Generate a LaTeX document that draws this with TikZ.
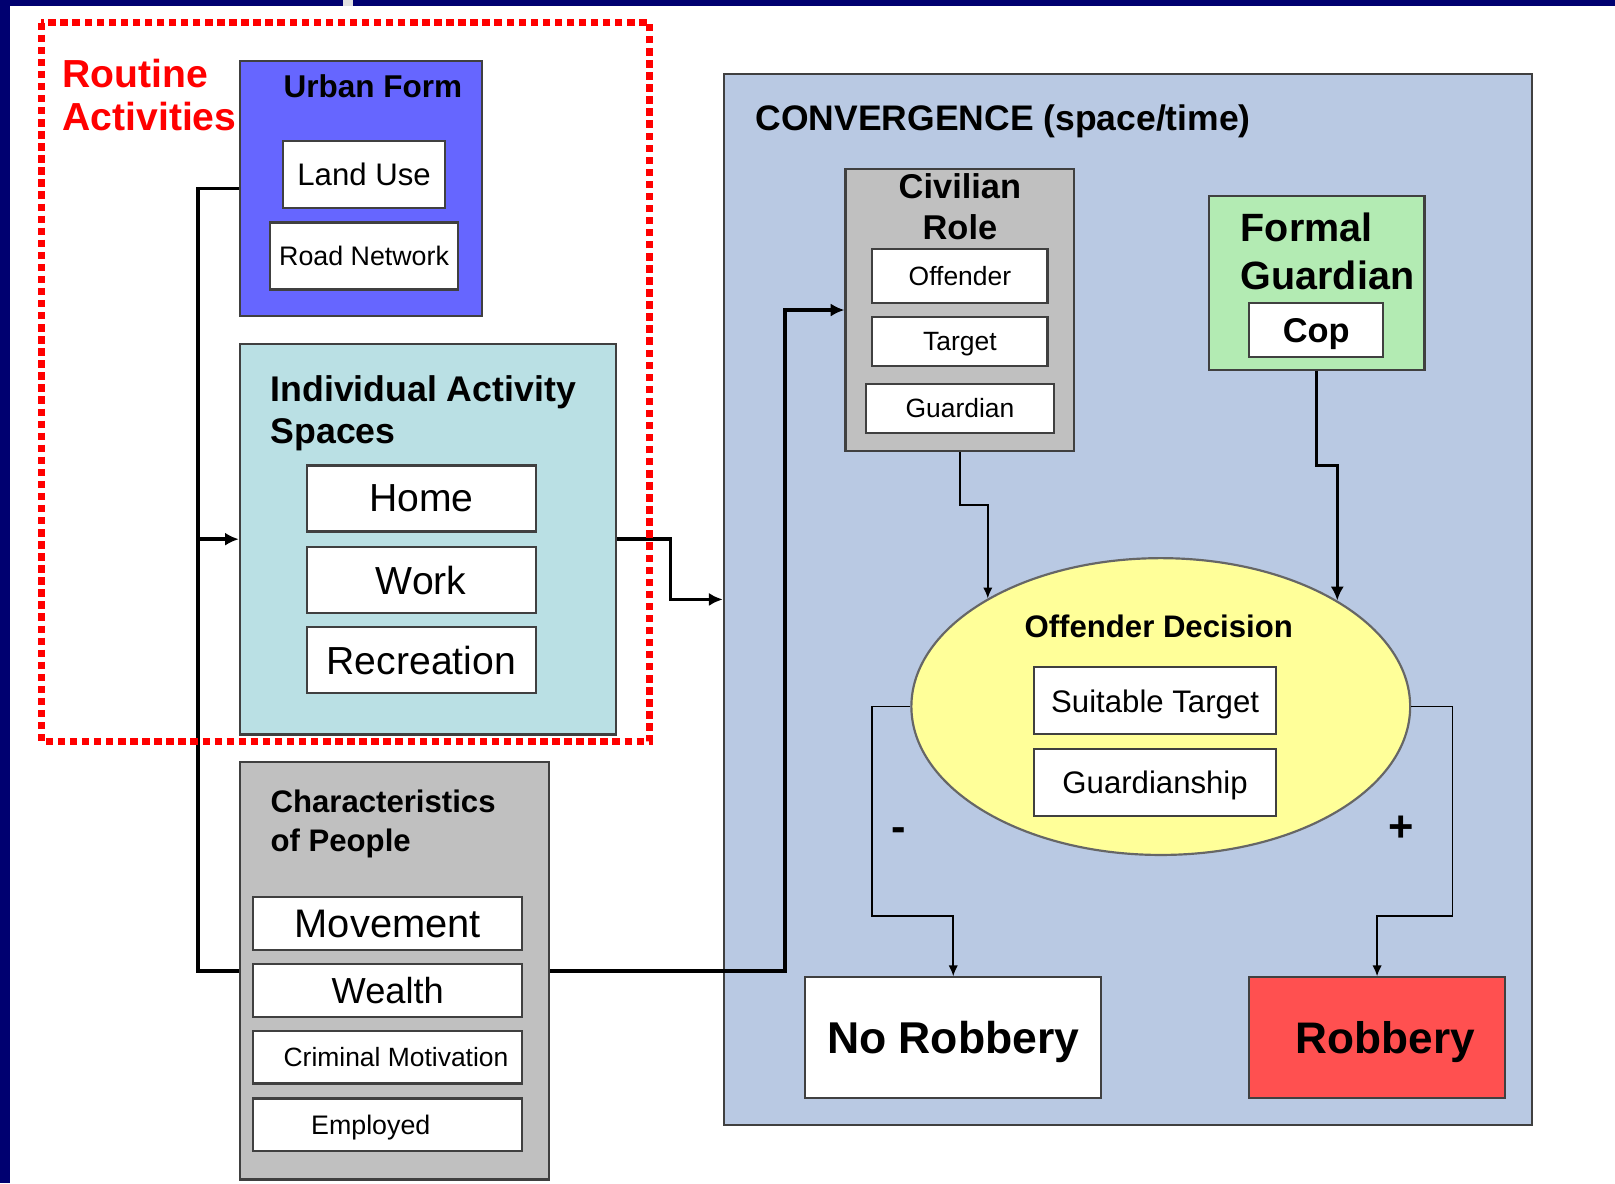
\documentclass[tikz,border=0pt]{standalone}
\usepackage{fontspec}
\setmainfont{Liberation Sans}
\usepackage{xcolor}
\usepackage{tikz}
\usetikzlibrary{calc}
\usetikzlibrary{shapes.geometric, arrows.meta}
\tikzstyle{arrow} = [->,>={Latex[length=3.8pt, width=3.6pt]}]
\definecolor{navy}{RGB}{0,0,112}
\definecolor{urbanblue}{RGB}{102,102,255}
\definecolor{iascyan}{RGB}{186,224,228}
\definecolor{chargray}{RGB}{192,192,192}
\definecolor{convblue}{RGB}{185,201,227}
\definecolor{guardgreen}{RGB}{179,235,179}
\definecolor{decyellow}{RGB}{255,255,153}
\definecolor{robred}{RGB}{255,80,80}
\definecolor{routinered}{RGB}{255,0,0}
\newcommand{\fsz}[2]{\fontsize{#1}{#2}\selectfont}

\begin{document}
\begin{tikzpicture}[
				x=0.01cm, y=-0.01cm,
				panel/.style= {draw=black!75, line width=0.6pt, inner sep=0pt, text depth=0pt},
				item/.style= {panel, fill=white},
				head/.style= {inner sep=0pt},
				link/.style= {line width=1pt},
				feed/.style= {line width=0.5pt, >={Latex[length=3pt, width=2.6pt]}},
				routine/.style= {draw=routinered, line width=0.068cm, dash pattern=on 0.072cm off 0.045cm}
			]
			\useasboundingbox (0,0) rectangle (1568,1149);
			\fill [navy] (0,0) rectangle (1568,6);
			\fill [navy] (0,0) rectangle (10,1149);
			\fill [black!12] (333,0) rectangle (343,6);
			
			\node (conv) [panel, fill=convblue, minimum width=7.84cm, minimum height=10.2cm] at (1095,582) {};
			\node (convtitle) [head, anchor=north west, font={\fsz{9.8}{12}\bfseries}] at (733,101) {CONVERGENCE (space/time)};
			
			\node (urban) [panel, fill=urbanblue, minimum width=2.35cm, minimum height=2.48cm] at (350.5,183) {};
			\node (urbantitle) [head, font={\fsz{8.7}{10}\bfseries}] at (362,84) {Urban Form};
			\node (landuse) [item, minimum width=1.57cm, minimum height=0.65cm, font={\fsz{8.6}{10}}] at (353.5,169.5) {Land Use};
			\node (road) [item, minimum width=1.83cm, minimum height=0.65cm, font={\fsz{7.4}{9}}] at (353.5,248.5) {Road Network};
			
			\node (ias) [panel, fill=iascyan, minimum width=3.65cm, minimum height=3.79cm] at (415.5,523.5) {};
			\node (iastitle) [head, anchor=north west, align=left, font={\fsz{9.85}{11.6}\bfseries}] at (262,364) {Individual Activity\\Spaces};
			\node (home) [item, minimum width=2.22cm, minimum height=0.64cm, font={\fsz{10.8}{12}}] at (409,484) {Home};
			\node (work) [item, minimum width=2.22cm, minimum height=0.64cm, font={\fsz{10.8}{12}}] at (409,563) {Work};
			\node (recreation) [item, minimum width=2.22cm, minimum height=0.64cm, font={\fsz{10.8}{12}}] at (409,641) {Recreation};
			
			\node (people) [panel, fill=chargray, minimum width=3.0cm, minimum height=4.05cm] at (383,942.5) {};
			\node (peopletitle) [head, anchor=north west, align=left, font={\fsz{8.6}{10.8}\bfseries}] at (262,766) {Characteristics\\of People};
			\node (movement) [item, minimum width=2.61cm, minimum height=0.51cm, font={\fsz{11}{12}}] at (376.5,896.5) {Movement};
			\node (wealth) [item, minimum width=2.61cm, minimum height=0.51cm, font={\fsz{10}{12}}] at (376.5,961.5) {Wealth};
			\node (motivation) [item, minimum width=2.61cm, minimum height=0.51cm, font={\fsz{7.3}{9}}] at (376.5,1026.5) {\hspace*{0.16cm}Criminal Motivation};
			\node (employed) [item, minimum width=2.61cm, minimum height=0.51cm, font={\fsz{7.4}{9}}] at (376.5,1092) {Employed\hspace*{0.33cm}};
			
			\node (civilian) [panel, fill=chargray, minimum width=2.22cm, minimum height=2.74cm] at (932,301) {};
			\node (civiliantitle) [head, anchor=north, align=center, font={\fsz{9.5}{11.3}\bfseries}] at (932,168) {Civilian\\Role};
			\node (offender) [item, minimum width=1.70cm, minimum height=0.52cm, font={\fsz{7.3}{9}}] at (932,268) {Offender};
			\node (target) [item, minimum width=1.70cm, minimum height=0.47cm, font={\fsz{7.3}{9}}] at (932,331.5) {Target};
			\node (guardian) [item, minimum width=1.82cm, minimum height=0.47cm, font={\fsz{7.3}{9}}] at (932,396.5) {Guardian};
			
			\node (formal) [panel, fill=guardgreen, minimum width=2.09cm, minimum height=1.69cm] at (1278.5,274.5) {};
			\node (formaltitle) [head, anchor=north west, align=left, font={\fsz{10.9}{13.3}\bfseries}] at (1204,206) {Formal\\Guardian};
			\node (cop) [item, minimum width=1.30cm, minimum height=0.53cm, font={\fsz{9.5}{11}\bfseries}] at (1278,320.5) {Cop};
			
			\node (decision) [ellipse, draw=black!60, line width=0.6pt, fill=decyellow, minimum width=4.84cm, minimum height=2.88cm, inner sep=0pt] at (1127,686) {};
			\node (decisiontitle) [head, font={\fsz{8.6}{10}\bfseries}] at (1125,608) {Offender Decision};
			\node (suitable) [item, minimum width=2.35cm, minimum height=0.65cm, font={\fsz{8.6}{10}}] at (1121.5,680.5) {Suitable Target};
			\node (guardianship) [item, minimum width=2.35cm, minimum height=0.65cm, font={\fsz{8.6}{10}}] at (1121.5,759.5) {Guardianship};
			
			\node (norobbery) [item, minimum width=2.87cm, minimum height=1.17cm, font={\fsz{12.3}{14}\bfseries}] at (925.5,1007.5) {No Robbery};
			\node (robbery) [panel, fill=robred, minimum width=2.48cm, minimum height=1.17cm, font={\fsz{12.2}{14}\bfseries}] at (1337,1007.5) {\hspace*{0.16cm}Robbery};
			\node (minus) [head, font={\fsz{12}{14}\bfseries}] at (873,810) {-};
			\node (plus) [head, font={\fsz{12}{14}\bfseries}] at (1360,805) {+};
			
			\coordinate (spine) at (192,523.5);
			\draw [link] (urban.west) -| (spine) |- (people.west);
			\draw [arrow, link] (spine) -- (ias.west);
			\draw [arrow, link] (ias.east) -- ++(52,0) |- (conv.west);
			\draw [arrow, link] (people.east) -- ++(228,0) |- (civilian.west);
			\draw [arrow, feed] (civilian.south) -- ++(0,51) -| (decision.148.9);
			\draw [arrow, link, line width=0.8pt] (formal.south) -- ++(0,92) -| (decision.31.1);
			\draw [arrow, feed] (decision.west) -- ++(-37,0) -- ++(0,203) -| (norobbery.north);
			\draw [arrow, feed] (decision.east) -- ++(40,0) -- ++(0,203) -| (robbery.north);
			
			\draw [routine] (40,22) rectangle (631,720);
			\node (routinetitle) [head, anchor=north west, align=left, text=routinered, font={\fsz{10.8}{11.9}\bfseries}] at (60,57) {Routine\\Activities};
		\end{tikzpicture}
\end{document}
